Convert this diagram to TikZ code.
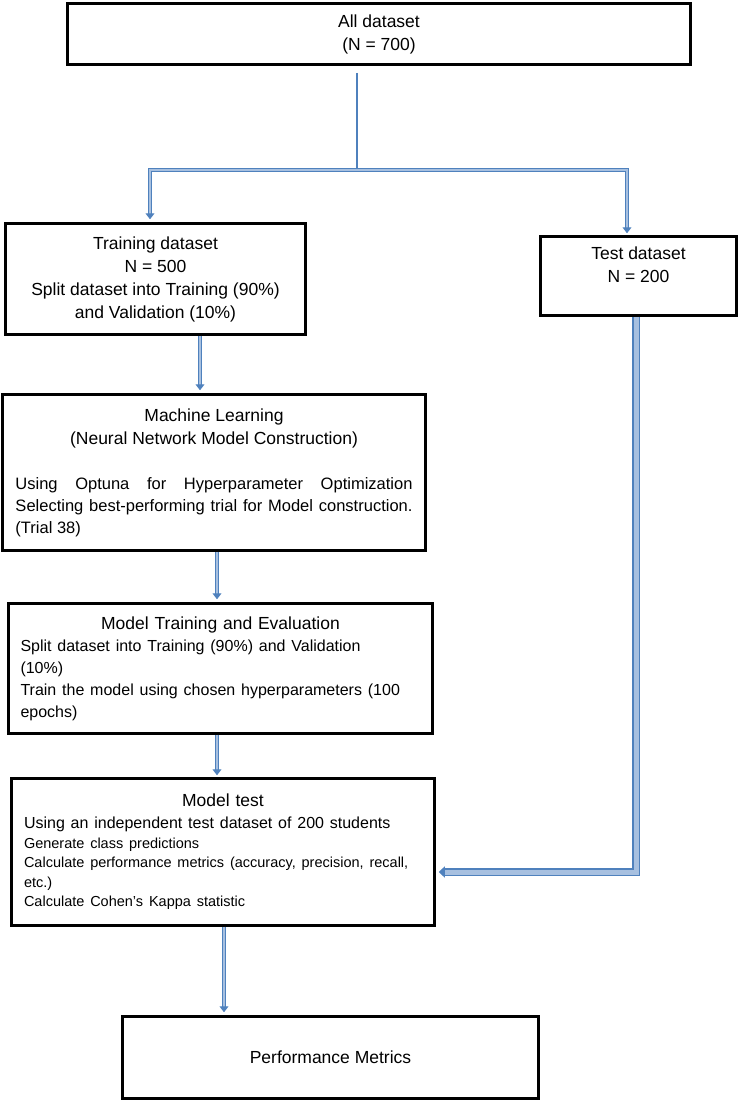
\documentclass[tikz,border=0pt]{standalone}
\usepackage{fontspec}
\setmainfont{Liberation Sans}
\usetikzlibrary{arrows.meta}

\definecolor{lineblue}{RGB}{79,129,189}
\definecolor{fillblue}{RGB}{167,192,224}
\newcommand{\headsize}{\fontsize{17.5}{23}\selectfont}
\newcommand{\bodysize}{\fontsize{16}{22}\selectfont}
\newcommand{\smallsize}{\fontsize{14.5}{19.5}\selectfont}

\begin{document}
\begin{tikzpicture}[x=1pt,y=-1pt]
    \tikzstyle{box}=[rectangle,draw=black,line width=2.5pt,inner sep=0pt,font=\headsize]
    \tikzstyle{conn}=[draw=lineblue,double=fillblue,line width=1pt,double distance=1.6pt,-{Triangle[length=6pt,width=9pt]}]
    \tikzstyle{fatconn}=[draw=lineblue,double=fillblue,line width=1.2pt,double distance=5pt,-{Triangle[length=6pt,width=11pt]}]
    \useasboundingbox (0,0) rectangle (740,1101);

    \node[box,minimum width=623pt,minimum height=61pt,align=center] (all) at (379,34)
        {All dataset\\(N = 700)};
    \node[box,minimum width=300pt,minimum height=111pt,align=center] (train) at (155.5,279)
        {Training dataset\\N = 500\\Split dataset into Training (90\%)\\and Validation (10\%)};
    \node[box,minimum width=196pt,minimum height=79pt,align=center] (test) at (638.5,276)
        {Test dataset\\N = 200\\~};
    \node[box,minimum width=423pt,minimum height=156pt,text width=397pt,align=justify] (ml) at (214,472.5)
        {\centerline{Machine Learning}\par\centerline{(Neural Network Model Construction)}\par\vskip 23pt
         {\fontsize{16.5}{22}\selectfont Using Optuna for Hyperparameter Optimization\linebreak
         Selecting best-performing trial for Model construction.\linebreak
         (Trial 38)\par}};
    \node[box,minimum width=424pt,minimum height=130pt,text width=400pt,align=left] (mte) at (220.5,668.5)
        {\centerline{Model Training and Evaluation}\par
         {\bodysize Split dataset into Training (90\%) and Validation\\(10\%)\\
         Train the model using chosen hyperparameters (100\\epochs)\par}};
    \node[box,minimum width=423pt,minimum height=147pt,text width=398pt,align=left] (mtest) at (223,852)
        {\centerline{Model test}\par
         {\bodysize Using an independent test dataset of 200 students\par}
         {\smallsize Generate class predictions\\
         Calculate performance metrics (accuracy, precision, recall,\\etc.)\\
         Calculate Cohen's Kappa statistic\par}};
    \node[box,minimum width=416pt,minimum height=82pt] (perf) at (330.5,1057.5)
        {Performance Metrics};

    % split of the whole dataset
    \coordinate (split) at (357,170);
    \coordinate (splitL) at (150,170);
    \coordinate (splitR) at (627,170);
    \draw[lineblue,line width=2pt,shorten <=7pt] (split |- all.south) -- (split);
    \draw[conn,{Triangle[length=6pt,width=9pt]}-{Triangle[length=6pt,width=9pt]}]
        ([yshift=3pt]splitL |- train.north) -- (splitL) -- (splitR) -- ([yshift=2pt]splitR |- test.north);

    % main line
    \draw[conn] ([xshift=44.5pt]train.south) -- ([xshift=44.5pt,yshift=3pt]train.south |- ml.north);
    \draw[conn] ([xshift=3pt]ml.south) -- ([xshift=3pt,yshift=3pt]ml.south |- mte.north);
    \draw[conn] ([xshift=-3.5pt]mte.south) -- ([xshift=-3.5pt,yshift=2pt]mte.south |- mtest.north);
    \draw[conn] ([xshift=1pt]mtest.south) -- ([xshift=1pt,yshift=3pt]mtest.south |- perf.north);

    % test data into the model test
    \draw[fatconn] ([xshift=-2.5pt]test.south) |- ([xshift=3pt,yshift=-20pt]mtest.east);
\end{tikzpicture}
\end{document}
